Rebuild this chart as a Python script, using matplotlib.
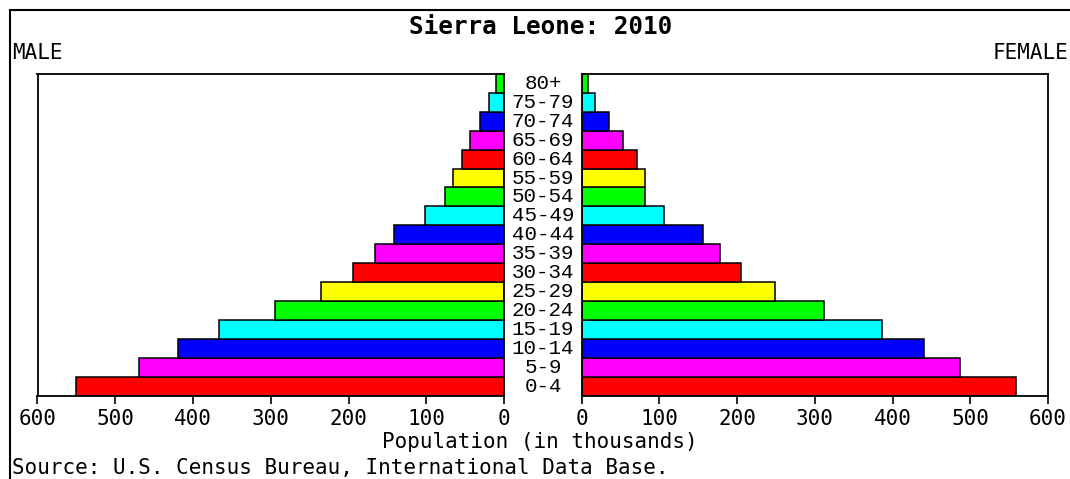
import matplotlib
matplotlib.use("Agg")
from matplotlib import pyplot as plt
from matplotlib.lines import Line2D
from matplotlib.transforms import blended_transform_factory

ages = ["0-4", "5-9", "10-14", "15-19", "20-24", "25-29", "30-34", "35-39",
        "40-44", "45-49", "50-54", "55-59", "60-64", "65-69", "70-74",
        "75-79", "80+"]
male = [550, 470, 419, 366, 295, 235, 194, 166, 141, 102, 76, 66, 54, 44,
        31, 19, 10]
female = [559, 487, 441, 386, 312, 249, 205, 178, 156, 106, 82, 82, 71, 54,
          35, 18, 9]
ticks = [0, 100, 200, 300, 400, 500, 600]
colors = ["#ff0000", "#ff00ff", "#0000ff", "#00ffff", "#00ff00", "#ffff00"]

W, H = 1070, 479
mono = "DejaVu Sans Mono"

fig = plt.figure(figsize=(W / 100, H / 100), dpi=100)

def px(x0, y0, x1, y1):
    # pixel box (from top-left) -> figure fraction rect
    return [x0 / W, 1 - y1 / H, (x1 - x0) / W, (y1 - y0) / H]

axl = fig.add_axes(px(37.5, 74, 504, 395.5))
axr = fig.add_axes(px(581.5, 74, 1048, 395.5))

ypos = list(range(len(ages)))
bar_colors = [colors[i % 6] for i in ypos]

axl.barh(ypos, male, height=1.0, color=bar_colors, edgecolor="black", linewidth=1.1)
axr.barh(ypos, female, height=1.0, color=bar_colors, edgecolor="black", linewidth=1.1)

axl.set_xlim(600, 0)
axr.set_xlim(0, 600)
for ax in (axl, axr):
    ax.set_ylim(-0.5, len(ages) - 0.5)
    ax.set_yticks([])
    ax.set_xticks(ticks)
    ax.set_xticklabels([str(t) for t in ticks], fontfamily=mono, fontsize=15)
    ax.tick_params(axis="x", direction="out", length=6, width=1.2, pad=4, colors="black")
    for s in ax.spines.values():
        s.set_linewidth(1.3)
        s.set_color("black")

# age group labels in the gap between the two halves
tr = blended_transform_factory(fig.transFigure, axr.transData)
for i, a in enumerate(ages):
    fig.text(543 / W, i, a, transform=tr, ha="center", va="center",
             fontfamily="Liberation Mono", fontsize=15)

fig.text(541 / W, 1 - 27 / H, "Sierra Leone: 2010", ha="center", va="center",
         fontfamily=mono, fontsize=17.5, fontweight="bold")
fig.text(12 / W, 1 - 53 / H, "MALE", ha="left", va="center", fontfamily=mono, fontsize=15)
fig.text(1068 / W, 1 - 53 / H, "FEMALE", ha="right", va="center", fontfamily=mono, fontsize=15)
fig.text(540 / W, 1 - 442 / H, "Population (in thousands)", ha="center", va="center",
         fontfamily=mono, fontsize=15)
fig.text(12 / W, 1 - 468 / H, "Source: U.S. Census Bureau, International Data Base.",
         ha="left", va="center", fontfamily=mono, fontsize=15)

# outer frame (top and left edges)
fig.add_artist(Line2D([10 / W, 1], [1 - 10 / H, 1 - 10 / H], transform=fig.transFigure,
                      color="black", linewidth=1.5))
fig.add_artist(Line2D([10 / W, 10 / W], [0, 1 - 10 / H], transform=fig.transFigure,
                      color="black", linewidth=1.5))

fig.savefig("out.png", dpi=100)
